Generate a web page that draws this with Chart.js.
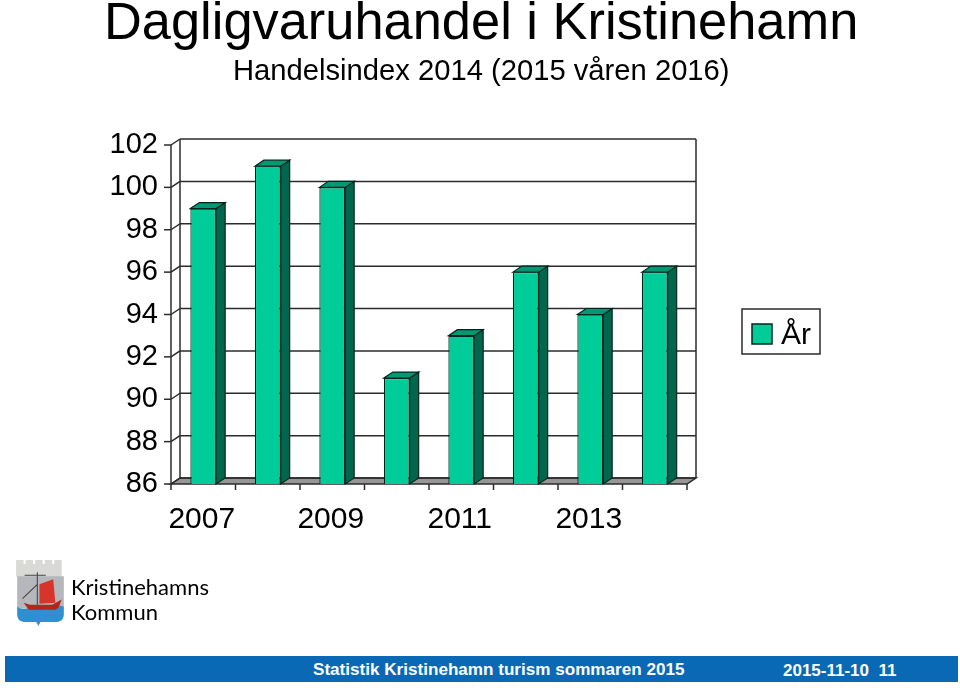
<!DOCTYPE html>
<html lang="sv">
<head>
<meta charset="utf-8">
<title>Dagligvaruhandel i Kristinehamn</title>
<script src="https://cdn.jsdelivr.net/npm/chart.js@4"></script>
<style>
    html, body { margin: 0; padding: 0; background: #fff; }
    body { width: 960px; height: 688px; position: relative; overflow: hidden; font-family: "Liberation Sans", Arial, sans-serif; }
    canvas { position: absolute; left: 0; top: 0; }
    .txt { position: absolute; white-space: nowrap; color: #000; }
    #title { left: 104px; top: -9px; font-size: 52.4px; line-height: 60px; }
    #subtitle { left: 233px; top: 54px; font-size: 29.2px; line-height: 32px; }
    #bar { position: absolute; left: 5px; top: 656px; width: 953px; height: 26px; background: #0a69b4; }
    #foot1 { left: 313px; top: 659px; font-size: 17.1px; line-height: 22px; font-weight: bold; color: #fff; }
    #foot2 { left: 783px; top: 660px; font-size: 17px; line-height: 22px; font-weight: bold; color: #fff; }
    #logo1 { left: 71px; top: 573px; font-family: "Lato", sans-serif; font-size: 22px; line-height: 28px; }
    #logo2 { left: 71px; top: 598px; font-family: "Lato", sans-serif; font-size: 22px; line-height: 28px; }
    #crest { position: absolute; left: 14px; top: 558px; }
</style>
</head>
<body>
<canvas id="chart" width="960" height="688"></canvas>
<div class="txt" id="title">Dagligvaruhandel i Kristinehamn</div>
<div class="txt" id="subtitle">Handelsindex 2014 (2015 våren 2016)</div>
<svg id="crest" width="53" height="71" viewBox="0 0 50 70" preserveAspectRatio="none">
    <path d="M2 2h7v4h2V2h7v4h2V2h7v4h2V2h7v4h2V2h7v16l-3 3v25H5V21l-3-3z" fill="#d9d9d6"/>
    <rect x="3" y="18" width="44" height="32" fill="#b4b8bc"/>
    <path d="M3 48q5 4 11 1t11 0 11 0 11-1v8q0 6-6 7H25l-2 4-2-4H9q-6-1-6-7z" fill="#2f8fd0"/>
    <path d="M24 26l13-5 2 23-15 1z" fill="#d8352a"/>
    <path d="M9 44l6 2h21l9-5-3 8-3 2H14z" fill="#b3261e"/>
    <path d="M22 14v32M8 40l14-14M10 17h20" stroke="#444" stroke-width="1" fill="none"/>
</svg>
<div class="txt" id="logo1">Kristinehamns</div>
<div class="txt" id="logo2">Kommun</div>
<div id="bar"></div>
<div class="txt" id="foot1">Statistik Kristinehamn turism sommaren 2015</div>
<div class="txt" id="foot2">2015-11-10&nbsp; 11</div>

<script>
// Chart data
const years = ['2007', '2008', '2009', '2010', '2011', '2012', '2013', '2014'];
const indexValues = [99, 101, 100, 91, 93, 96, 94, 96];
const seriesName = 'År';
const axisMin = 86;
const axisMax = 102;
const axisStep = 2;

// 3D look of the old spreadsheet chart
const DEPTH_X = 9;
const DEPTH_Y = -6;
const LINE_COLOR = '#2b2b2b';
const BAR_EDGE = '#00261c';
const BAR_FRONT = '#00cc99';
const FONT = '"Liberation Sans", Arial, sans-serif';

function poly(ctx, points, fill, stroke) {
    ctx.beginPath();
    points.forEach((p, i) => i ? ctx.lineTo(p[0], p[1]) : ctx.moveTo(p[0], p[1]));
    ctx.closePath();
    if (fill) { ctx.fillStyle = fill; ctx.fill(); }
    if (stroke) { ctx.strokeStyle = stroke; ctx.stroke(); }
}

function segment(ctx, x1, y1, x2, y2) {
    ctx.beginPath();
    ctx.moveTo(x1, y1);
    ctx.lineTo(x2, y2);
    ctx.stroke();
}

// Back wall, side wall, floor, grid, tick marks and the framed legend
const wallsPlugin = {
    id: 'walls',
    beforeDatasetsDraw(chart) {
        const { ctx, chartArea: a, scales } = chart;
        ctx.save();
        ctx.lineWidth = 1.5;
        ctx.strokeStyle = LINE_COLOR;
        poly(ctx, [[a.left, a.bottom], [a.left + DEPTH_X, a.bottom + DEPTH_Y], [a.right + DEPTH_X, a.bottom + DEPTH_Y], [a.right, a.bottom]], '#969696', LINE_COLOR);
        segment(ctx, a.left, a.top, a.left, a.bottom);
        segment(ctx, a.left + DEPTH_X, a.top + DEPTH_Y, a.left + DEPTH_X, a.bottom + DEPTH_Y);
        segment(ctx, a.right + DEPTH_X, a.top + DEPTH_Y, a.right + DEPTH_X, a.bottom + DEPTH_Y);
        scales.y.ticks.forEach(t => {
            const y = scales.y.getPixelForValue(t.value);
            segment(ctx, a.left - 7, y, a.left, y);
            segment(ctx, a.left, y, a.left + DEPTH_X, y + DEPTH_Y);
            segment(ctx, a.left + DEPTH_X, y + DEPTH_Y, a.right + DEPTH_X, y + DEPTH_Y);
        });
        // tick marks sit on the category boundaries
        const catWidth = (a.right - a.left) / years.length;
        years.forEach((label, i) => {
            const x = scales.x.getPixelForValue(i) - catWidth / 2;
            segment(ctx, x, a.bottom, x, a.bottom + 6);
        });
        segment(ctx, a.right, a.bottom, a.right, a.bottom + 6);
        ctx.restore();
    },
    afterDatasetsDraw(chart) {
        const { ctx } = chart;
        ctx.save();
        ctx.lineWidth = 1.2;
        chart.getDatasetMeta(0).data.forEach(bar => {
            const left = bar.x - bar.width / 2;
            const right = bar.x + bar.width / 2;
            poly(ctx, [[right, bar.y], [right + DEPTH_X, bar.y + DEPTH_Y], [right + DEPTH_X, bar.base + DEPTH_Y], [right, bar.base]], '#00664d', BAR_EDGE);
            poly(ctx, [[left, bar.y], [left + DEPTH_X, bar.y + DEPTH_Y], [right + DEPTH_X, bar.y + DEPTH_Y], [right, bar.y]], '#009973', BAR_EDGE);
        });
        // legend
        ctx.lineWidth = 1.5;
        ctx.strokeStyle = LINE_COLOR;
        ctx.strokeRect(742, 309, 78, 45);
        ctx.fillStyle = BAR_FRONT;
        ctx.strokeStyle = BAR_EDGE;
        ctx.fillRect(752, 324, 20, 20);
        ctx.strokeRect(752, 324, 20, 20);
        ctx.fillStyle = '#000';
        ctx.font = '30px ' + FONT;
        ctx.textBaseline = 'alphabetic';
        ctx.fillText(seriesName, 781, 344);
        ctx.restore();
    }
};

new Chart(document.getElementById('chart'), {
    type: 'bar',
    plugins: [wallsPlugin],
    data: {
        labels: years,
        datasets: [{
            label: seriesName,
            data: indexValues,
            base: axisMin,
            backgroundColor: BAR_FRONT,
            borderColor: BAR_EDGE,
            borderWidth: 1.2,
            barPercentage: 0.4,
            categoryPercentage: 1
        }]
    },
    options: {
        responsive: false,
        animation: false,
        layout: { padding: { top: 145, left: 0, right: 273, bottom: 0 } },
        plugins: {
            tooltip: { enabled: false },
            legend: { display: false }
        },
        scales: {
            x: {
                afterFit(scale) { scale.height = 688 - 484; },
                grid: { display: false },
                border: { display: false },
                ticks: {
                    autoSkip: false,
                    maxRotation: 0,
                    padding: 10,
                    labelOffset: -1.5,
                    color: '#000',
                    font: { family: FONT, size: 30 },
                    callback(value, index) { return index % 2 === 0 ? years[index] : ''; }
                }
            },
            y: {
                min: axisMin,
                max: axisMax,
                afterFit(scale) { scale.width = 171; },
                grid: { display: false },
                border: { display: false },
                ticks: {
                    stepSize: axisStep,
                    padding: 5,
                    color: '#000',
                    font: { family: FONT, size: 29 }
                }
            }
        }
    }
});
</script>
</body>
</html>
